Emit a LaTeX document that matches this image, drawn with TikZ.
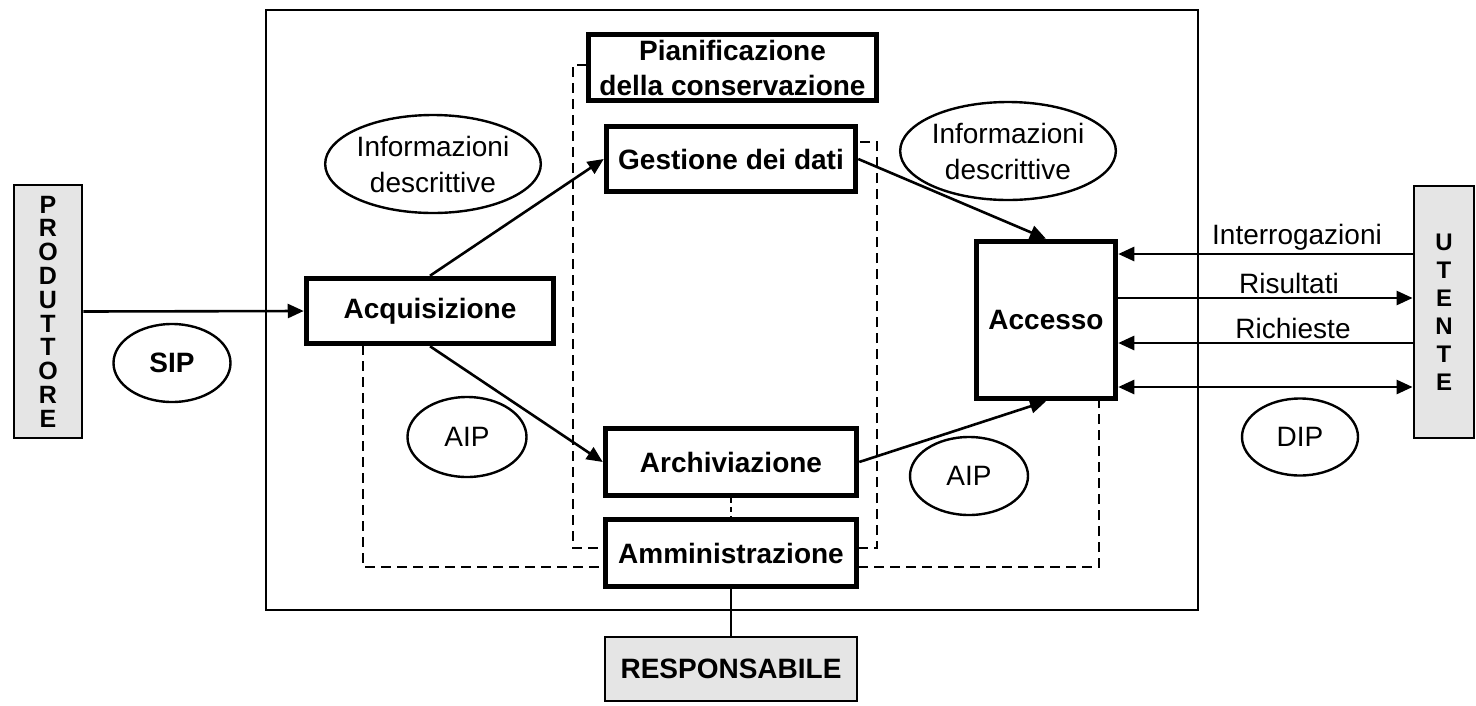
\documentclass[tikz,border=0pt]{standalone}
\usepackage{fontspec}
\setmainfont{Liberation Sans}
\usetikzlibrary{arrows.meta,shapes.geometric,calc}

\begin{document}
\begin{tikzpicture}[x=1pt,y=-1pt,
  every node/.style={font=\fontsize{28}{36}\selectfont},
  proc/.style={draw,line width=5.5pt,fill=white,inner sep=0pt,align=center,
    font=\fontsize{28}{35}\selectfont\bfseries},
  actor/.style={draw,line width=2.8pt,fill=black!10,inner sep=0pt,align=center},
  pkg/.style={draw,ellipse,line width=2.4pt,inner sep=0pt,align=center},
  tip/.style={},
  flow/.style={line width=2.6pt,-{Triangle[length=16pt,width=14pt]}},
  both/.style={line width=2.6pt,{Triangle[length=16pt,width=14pt]}-{Triangle[length=16pt,width=14pt]}},
  bound/.style={line width=2.8pt,dash pattern=on 10pt off 6pt},
  lbl/.style={anchor=base,inner sep=0pt},
]
\useasboundingbox (0,0) rectangle (1476,705);
\fill[white] (0,0) rectangle (1476,705);

% archive system frame
\node[draw,line width=2.6pt,minimum width=932pt,minimum height=600pt,inner sep=0pt] (system) at (732,310) {};

% functional boundaries (dashed)
\coordinate (d1) at (587,65);
\coordinate (d2) at (573,548);
\coordinate (d3) at (604,548);
\coordinate (d4) at (858,548);
\coordinate (d5) at (877,142);
\coordinate (d6) at (857,142);
\draw[bound] (d1) -| (d2) -- (d3);
\draw[bound] (d4) -| (d5) -- (d6);
\coordinate (e1) at (363,345);
\coordinate (e2) at (363,567);
\coordinate (e3) at (604,567);
\coordinate (e4) at (858,567);
\coordinate (e5) at (1099,400);
\draw[bound] (e1) -- (e2) -- (e3);
\draw[bound] (e4) -| (e5);

% external actors
\node[actor,minimum width=68pt,minimum height=253pt,font=\fontsize{25}{23.8}\selectfont\bfseries]
  (prod) at (48,311.5) {P\\R\\O\\D\\U\\T\\T\\O\\R\\E};
\node[actor,minimum width=60pt,minimum height=252pt,font=\fontsize{24}{28}\selectfont\bfseries]
  (ute) at (1444,312) {U\\T\\E\\N\\T\\E};
\node[actor,minimum width=252pt,minimum height=64pt,font=\fontsize{28}{35}\selectfont\bfseries]
  (resp) at (731,669) {RESPONSABILE};

% functional entities
\node[proc,minimum width=288pt,minimum height=66pt] (pian) at (732.5,67.5) {Pianificazione\\della conservazione};
\node[proc,minimum width=249pt,minimum height=65pt] (gest) at (731,159) {Gestione dei dati};
\node[proc,minimum width=247pt,minimum height=65pt] (acq) at (430,311) {Acquisizione};
\node[proc,minimum width=251pt,minimum height=67pt] (arch) at (731,462) {Archiviazione};
\node[proc,minimum width=251pt,minimum height=67pt] (amm) at (731,553) {Amministrazione};
\node[proc,minimum width=139pt,minimum height=157pt] (acc) at (1046,320) {Accesso};

% information packages
\node[pkg,minimum width=178pt,minimum height=98pt] (info1) at (433,164) {Informazioni\\descrittive};
\node[pkg,minimum width=186pt,minimum height=98pt] (info2) at (1008,151) {Informazioni\\descrittive};
\node[pkg,minimum width=117pt,minimum height=78pt,font=\fontsize{28}{35}\selectfont\bfseries] (sip) at (172,363) {SIP};
\node[pkg,minimum width=119pt,minimum height=80pt] (aip1) at (467,437) {AIP};
\node[pkg,minimum width=118pt,minimum height=78pt] (aip2) at (969,476) {AIP};
\node[pkg,minimum width=116pt,minimum height=77pt] (dip) at (1300,437) {DIP};

% flows
\draw[flow] (prod.east) -- (acq.west);
\draw[flow] (acq.north) -- (gest.west);
\draw[flow] (acq.south) -- (arch.west);
\draw[flow] (gest.east) -- (acc.north);
\draw[flow] (arch.east) -- (acc.south);

\coordinate (y1) at (0,254);
\coordinate (y2) at (0,298);
\coordinate (y3) at (0,343);
\coordinate (y4) at (0,387);
\draw[flow] (ute.west |- y1) -- (acc.east |- y1);
\draw[flow] (acc.east |- y2) -- (ute.west |- y2);
\draw[flow] (ute.west |- y3) -- (acc.east |- y3);
\draw[both] (acc.east |- y4) -- (ute.west |- y4);

\node[lbl] (tq) at (1297,244) {Interrogazioni};
\node[lbl] (tr) at (1289,293) {Risultati};
\node[lbl] (tc) at (1293,338) {Richieste};

% administration links
\draw[line width=2.4pt,dash pattern=on 5pt off 4pt] (arch.south) -- (amm.north);
\draw[line width=2.6pt] (amm.south) -- (resp.north);
\end{tikzpicture}
\end{document}
